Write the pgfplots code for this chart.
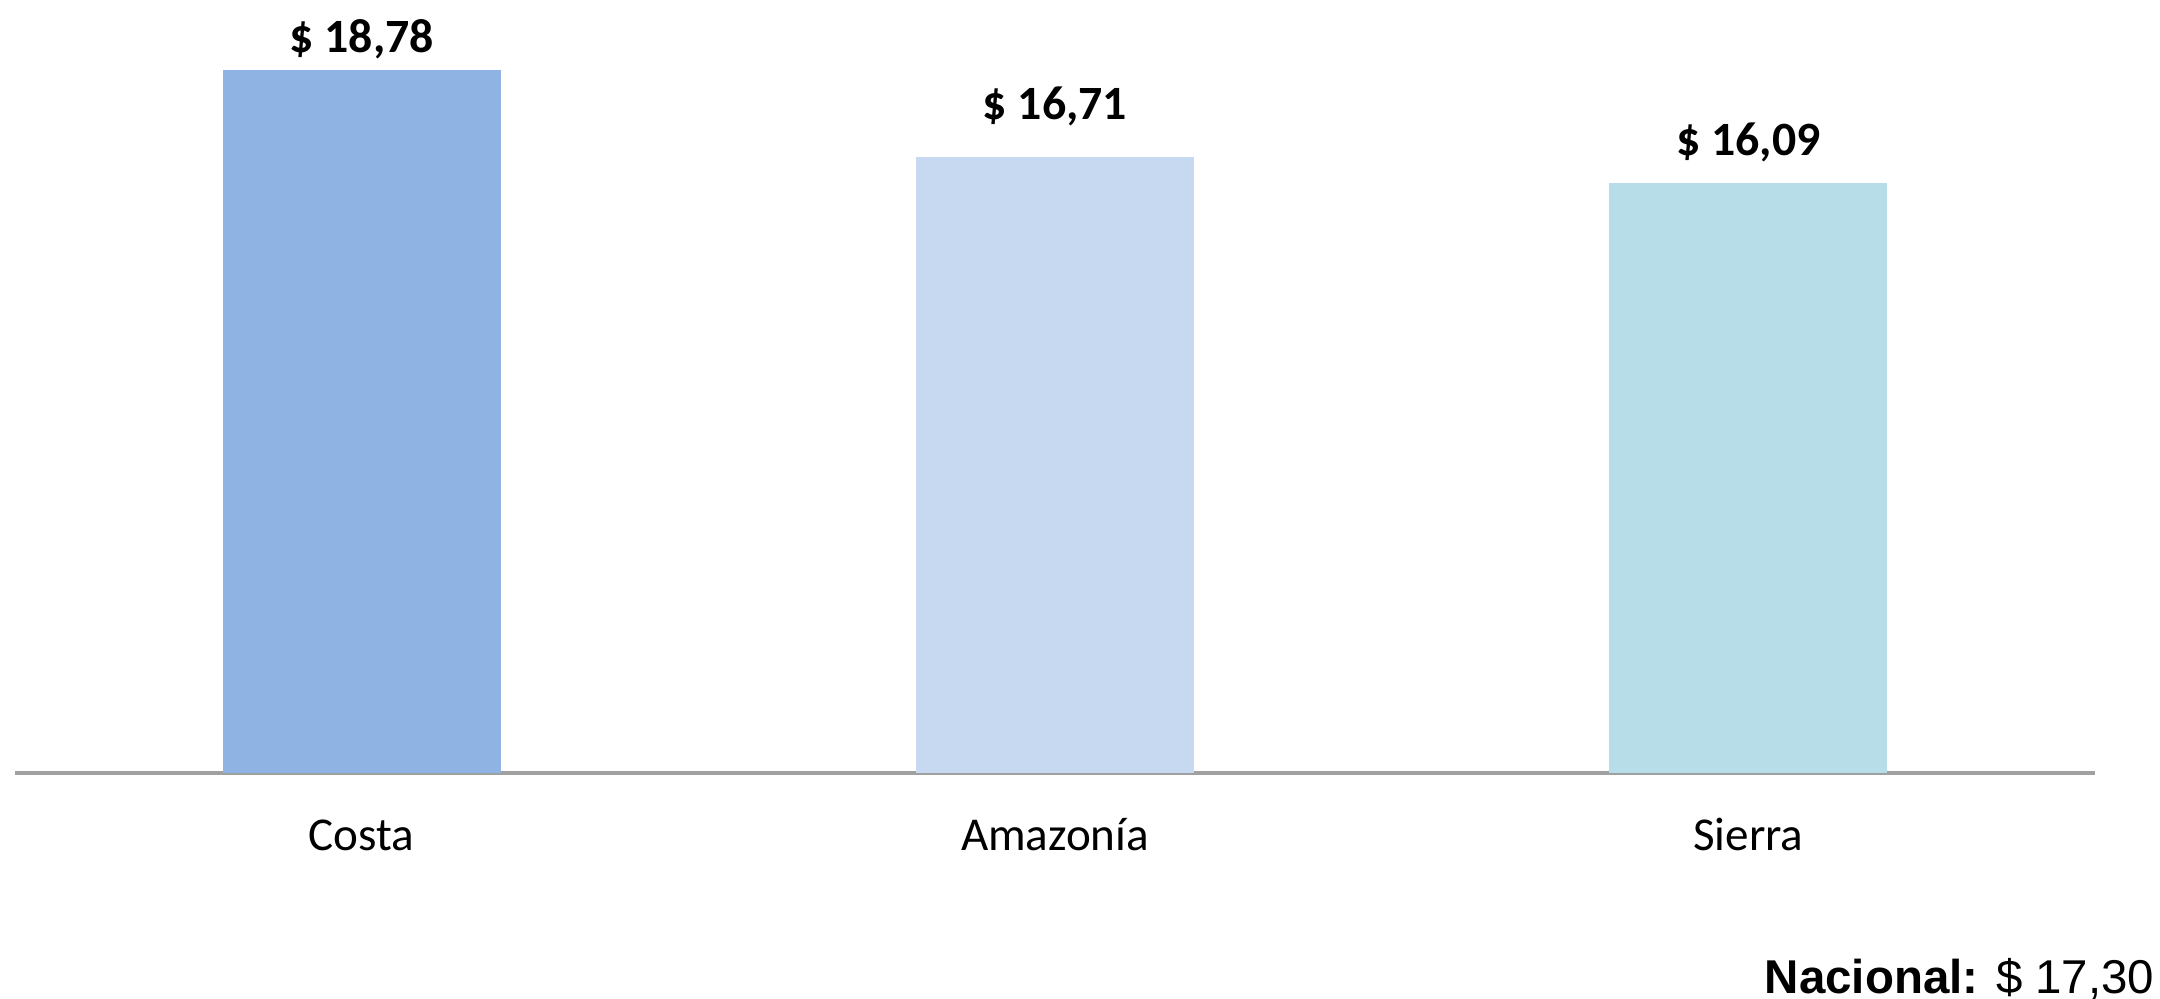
\documentclass[border=0pt]{standalone}
\usepackage{pgfplots}
\pgfplotsset{compat=1.18}
\usepackage{fontspec}
\setmainfont{Carlito}
\newfontfamily\arialfont{Liberation Sans}
\definecolor{cCosta}{HTML}{8FB3E2}
\definecolor{cAmaz}{HTML}{C6D9F1}
\definecolor{cSierra}{HTML}{B7DEE8}
\definecolor{axisgray}{HTML}{A0A0A0}
\begin{document}
\begin{tikzpicture}
\useasboundingbox (0,0) rectangle (21.6,9.98);
\begin{axis}[
  at={(0.15cm,2.25cm)}, anchor=south west,
  scale only axis,
  width=20.8cm, height=7.73cm,
  xmin=-0.5, xmax=2.5,
  ymin=2.02, ymax=20.45,
  axis y line=none,
  axis x line*=bottom,
  x axis line style={draw=axisgray, line width=0.9pt, -},
  xtick={0,1,2},
  xticklabels={Costa,Amazonía,Sierra},
  major tick length=0pt,
  xticklabel style={anchor=base, yshift=-0.77cm, font=\fontsize{13.4}{16}\selectfont, inner sep=0pt},
  ybar, bar width=2.78cm,
  clip=false,
]
\addplot[fill=cCosta, draw=none, bar shift=0pt] coordinates {(0,18.78)};
\addplot[fill=cAmaz, draw=none, bar shift=0pt] coordinates {(1,16.71)};
\addplot[fill=cSierra, draw=none, bar shift=0pt] coordinates {(2,16.09)};
\node[anchor=base, inner sep=0pt, font=\bfseries\fontsize{13.6}{16}\selectfont] at (axis cs:0,19.21) {\$ 18,78};
\node[anchor=base, inner sep=0pt, font=\bfseries\fontsize{13.6}{16}\selectfont] at (axis cs:1,17.59) {\$ 16,71};
\node[anchor=base, inner sep=0pt, font=\bfseries\fontsize{13.6}{16}\selectfont] at (axis cs:2,16.75) {\$ 16,09};
\end{axis}
\node[anchor=base east, inner sep=0pt, font=\arialfont\fontsize{13.5}{16}\selectfont] at (21.55,0.05) {\textbf{Nacional:} \$ 17,30};
\end{tikzpicture}
\end{document}
